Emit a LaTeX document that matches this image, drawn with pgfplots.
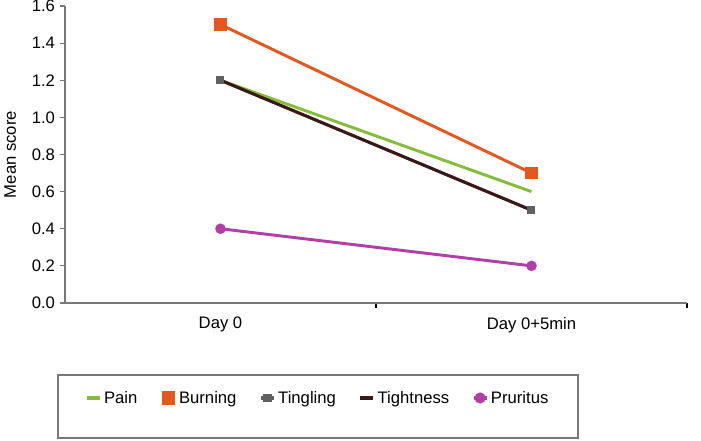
\documentclass[border=0pt]{standalone}
\usepackage{fontspec}
\setmainfont{Liberation Sans}
\usepackage{pgfplots}
\pgfplotsset{compat=1.18}

\definecolor{painc}{RGB}{132,188,60}
\definecolor{burnc}{RGB}{226,88,30}
\definecolor{tingc}{RGB}{96,96,96}
\definecolor{tightc}{RGB}{58,24,22}
\definecolor{prurc}{RGB}{176,64,168}
\definecolor{axc}{RGB}{120,120,120}

\begin{document}
\begin{tikzpicture}[font=\fontsize{12.5}{15}\selectfont]
\useasboundingbox (0pt,0pt) rectangle (525.75pt,330.75pt);
\begin{axis}[
    at={(48.75pt,103.5pt)}, anchor=south west,
    scale only axis,
    width=466.5pt, height=222.75pt,
    xmin=0, xmax=2,
    ymin=0, ymax=1.6,
    axis x line=bottom, axis y line=left,
    axis line style={-, axc, line width=0.9pt},
    xtick={0.5,1.5},
    xticklabels={Day 0, Day 0+5min},
    minor xtick={1,2},
    x tick style={draw=none},
    minor x tick style={draw=black, line width=0.8pt},
    minor tick length=4pt,
    ytick={0,0.2,...,1.6},
    y tick style={axc, line width=0.8pt},
    major tick length=4pt,
    tick align=outside,
    yticklabel style={/pgf/number format/.cd, fixed, fixed zerofill, precision=1},
    /pgf/number format/assume math mode=true,
    ylabel={Mean score},
    ylabel style={yshift=5pt},
    xticklabel style={yshift=-3pt},
    legend columns=5,
    legend style={draw=none, at={(0.4068,-0.3199)}, anchor=center,
        /tikz/every even column/.append style={column sep=15pt},
        font=\fontsize{12.5}{15}\selectfont},
    legend image code/.code={\draw[line width=2.6pt, mark repeat=2,mark phase=2] plot coordinates {(0cm,0cm) (0.17cm,0cm) (0.34cm,0cm)};},
    clip=false,
]
\addplot[painc, line width=2.2pt] coordinates {(0.5,1.2) (1.5,0.6)};
\addlegendentry{Pain}
\addplot[burnc, line width=2.2pt, mark=square*, mark size=3.6pt] coordinates {(0.5,1.5) (1.5,0.7)};
\addlegendentry{Burning}
\addplot[tingc, line width=2.2pt, mark=square*, mark size=1.9pt] coordinates {(0.5,1.2) (1.5,0.5)};
\addlegendentry{Tingling}
\addplot[tightc, line width=2.2pt] coordinates {(0.5,1.2) (1.5,0.5)};
\addlegendentry{Tightness}
\addplot[prurc, line width=2.2pt, mark=*, mark size=2.8pt] coordinates {(0.5,0.4) (1.5,0.2)};
\addlegendentry{Pruritus}
\end{axis}
\draw[axc, line width=0.8pt] (43.5pt,2.25pt) rectangle (433.5pt,49.5pt);
\end{tikzpicture}
\end{document}
